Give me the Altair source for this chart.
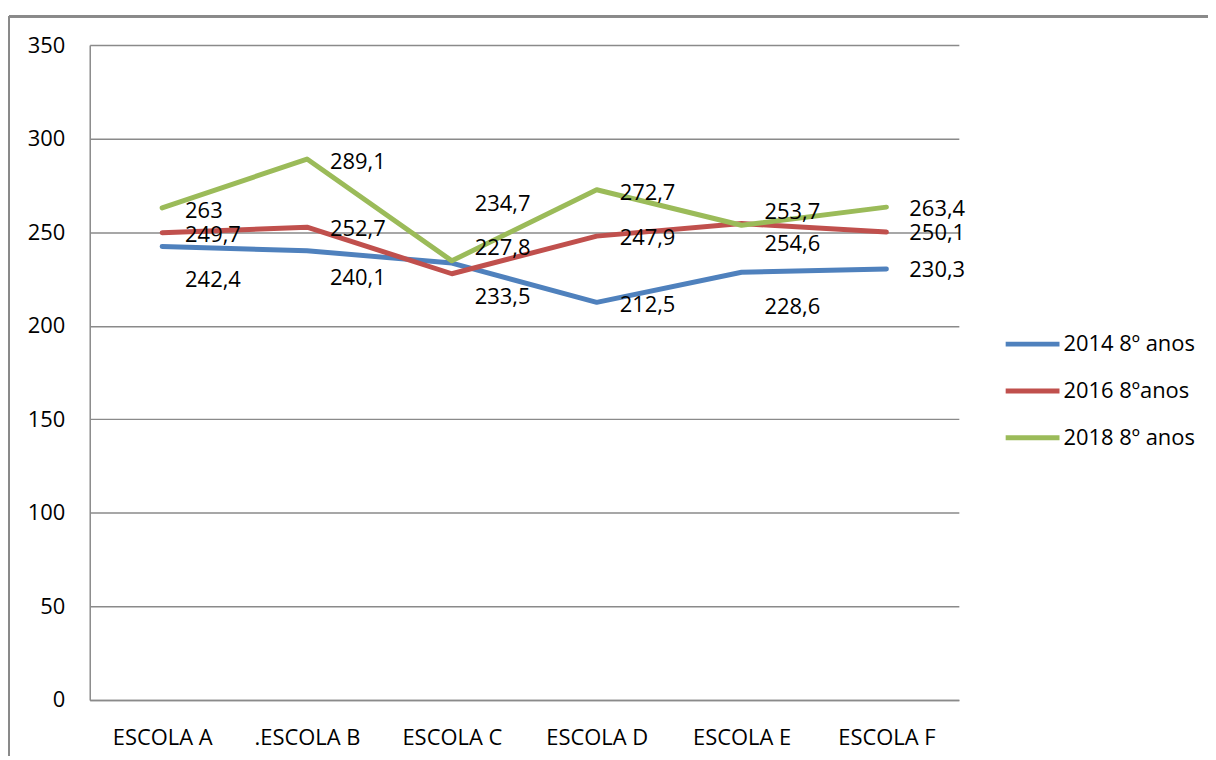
import altair as alt
import pandas as pd

schools = ["ESCOLA A", ".ESCOLA B", "ESCOLA C", "ESCOLA D", "ESCOLA E", "ESCOLA F"]
series_names = ["2014 8º anos", "2016 8ºanos", "2018 8º anos"]
values_2014 = [242.4, 240.1, 233.5, 212.5, 228.6, 230.3]
values_2016 = [249.7, 252.7, 227.8, 247.9, 254.6, 250.1]
values_2018 = [263.0, 289.1, 234.7, 272.7, 253.7, 263.4]
colors = ["#4F81BD", "#C0504D", "#9BBB59"]
y_ticks = [0, 50, 100, 150, 200, 250, 300, 350]

# vertical pixel shifts of the data labels (as placed in the original)
label_shift_2014 = [34, 27, 34, 3, 35, 1]
label_shift_2016 = [2, 2, -26, 2, 20, 1]
label_shift_2018 = [3, 3, -57, 3, -13, 2]

PLOT_W, PLOT_H = 872, 657
Y_MAX = 350

rows = []
for name, vals, shifts in zip(series_names,
                              [values_2014, values_2016, values_2018],
                              [label_shift_2014, label_shift_2016, label_shift_2018]):
    for i, (s, v, d) in enumerate(zip(schools, vals, shifts)):
        rows.append({"school": s, "series": name, "value": v,
                     "label": f"{v:g}".replace(".", ","), "shift": d, "order": i})
df = pd.DataFrame(rows)

FONT = "Open Sans"
GRID = "#8a8a8a"

x_scale = alt.Scale(type="point", padding=0.5)
y_scale = alt.Scale(domain=[0, Y_MAX], nice=False, zero=True)

x_enc = alt.X("school:N", sort=schools, scale=x_scale,
              axis=alt.Axis(title=None, labelAngle=0, labelFontSize=22, labelFont=FONT,
                            labelColor="black", ticks=False, labelPadding=28,
                            domainColor=GRID, domainWidth=1.5, grid=False))
y_enc = alt.Y("value:Q", scale=y_scale,
              axis=alt.Axis(title=None, values=y_ticks, labelFontSize=22, labelFont=FONT,
                            labelColor="black", ticks=False, labelPadding=25,
                            domainColor=GRID, domainWidth=1.5,
                            gridColor=GRID, gridWidth=1.5))

lines = alt.Chart(df).mark_line(strokeWidth=5, strokeJoin="round", strokeCap="round").encode(
    x=x_enc, y=y_enc,
    order="order:Q",
    color=alt.Color("series:N", sort=series_names,
                    scale=alt.Scale(domain=series_names, range=colors),
                    legend=alt.Legend(title=None, orient="none", legendX=955, legendY=289,
                                      symbolType="M-9.4,0H1.4", symbolSize=100,
                                      symbolStrokeWidth=5, labelFontSize=22, labelFont=FONT,
                                      labelColor="black", rowPadding=25, labelOffset=0,
                                      padding=0)),
)

labels = alt.Chart(df).transform_calculate(
    label_pos=f"datum.value - datum.shift * {Y_MAX} / {PLOT_H}"
).mark_text(align="left", baseline="middle", dx=23, fontSize=22,
            font=FONT, color="black").encode(
    x=alt.X("school:N", sort=schools, scale=x_scale),
    y=alt.Y("label_pos:Q", scale=y_scale),
    text="label:N",
)

frame_top = alt.Chart(df).mark_rule(color=GRID, strokeWidth=2).encode(
    x=alt.value(-81), x2=alt.value(1200), y=alt.value(-29))
frame_left = alt.Chart(df).mark_rule(color=GRID, strokeWidth=2).encode(
    x=alt.value(-81), y=alt.value(-29), y2=alt.value(760))

chart = alt.layer(frame_top, frame_left, lines, labels).properties(
    width=PLOT_W, height=PLOT_H,
    autosize=alt.AutoSizeParams(type="none"),
    padding={"left": 82, "top": 36, "right": 250, "bottom": 55},
).configure_view(stroke=None)

chart.save("out.html", embed_options={"renderer": "svg", "actions": False})
